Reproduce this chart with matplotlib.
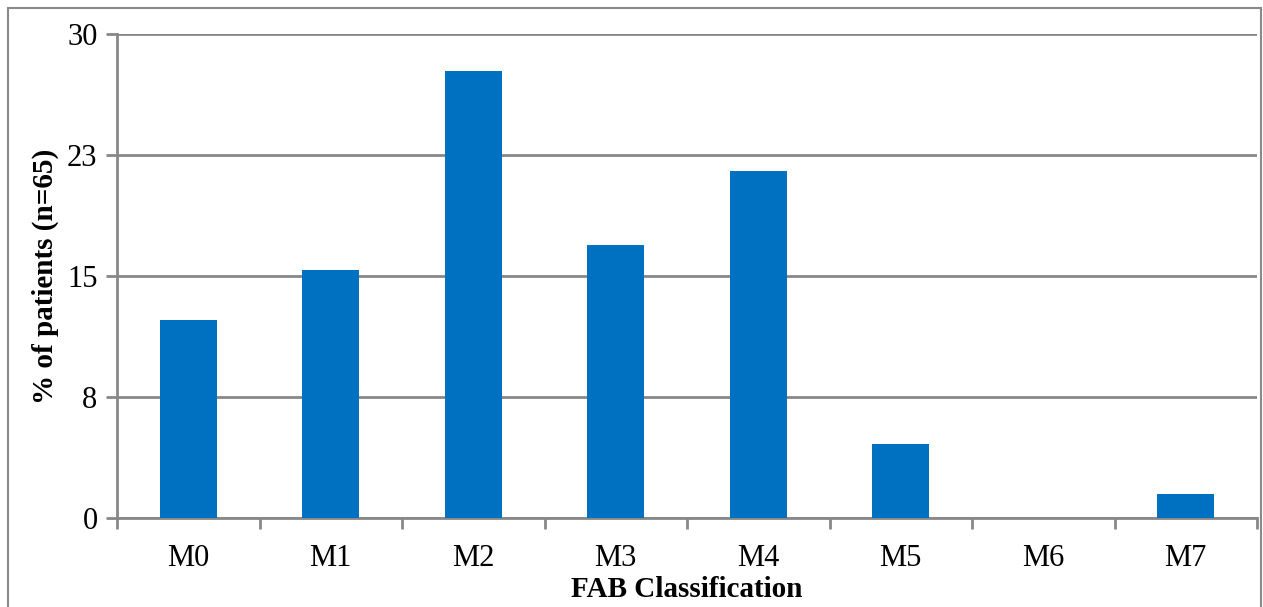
import numpy as np
import matplotlib.pyplot as plt
from matplotlib.patches import Rectangle

# FAB classification data
categories = ['M0', 'M1', 'M2', 'M3', 'M4', 'M5', 'M6', 'M7']
percent_patients = [12.3, 15.4, 27.7, 16.9, 21.5, 4.6, 0.0, 1.5]
ytick_vals = [0, 7.5, 15, 22.5, 30]
ytick_labels = ['0', '8', '15', '23', '30']

plt.rcParams['font.family'] = ['Liberation Serif', 'DejaVu Serif']

W, H = 1263, 607
fig = plt.figure(figsize=(W / 100, H / 100), dpi=100)
ax = fig.add_axes([117 / W, 1 - 518 / H, (1257 - 117) / W, (518 - 34) / H])

x = np.arange(len(categories))
ax.bar(x, percent_patients, width=0.4, color='#0070C0', zorder=3)

grid_col = '#888888'
ax.set_xlim(-0.5, len(categories) - 0.5)
ax.set_ylim(0, 30)
ax.set_yticks(ytick_vals)
ax.set_yticklabels(ytick_labels, fontsize=22)
ax.yaxis.grid(True, color=grid_col, linewidth=2, zorder=0)

# category labels centred, tick marks at category boundaries
ax.set_xticks(x)
ax.set_xticklabels(categories, fontsize=22)
ax.tick_params(axis='x', length=0, pad=19)
ax.set_xticks(np.arange(-0.5, len(categories)), minor=True)
ax.tick_params(axis='x', which='minor', length=8, width=2, color=grid_col)
ax.tick_params(axis='y', length=8, width=2, color=grid_col, pad=6)

for side in ['top', 'right']:
    ax.spines[side].set_visible(False)
for side in ['left', 'bottom']:
    ax.spines[side].set_color(grid_col)
    ax.spines[side].set_linewidth(2)

ax.set_xlabel('FAB Classification', fontsize=21, fontweight='bold', labelpad=2)
ax.set_ylabel('% of patients (n=65)', fontsize=21, fontweight='bold', labelpad=6)

# outer chart border
fig.patches.append(Rectangle((8 / W, -0.05), (1261 - 8) / W, 1.05 - 8 / H,
                             transform=fig.transFigure, fill=False,
                             edgecolor='#8a8a8a', linewidth=1.5))

fig.savefig('out.png', dpi=100)
